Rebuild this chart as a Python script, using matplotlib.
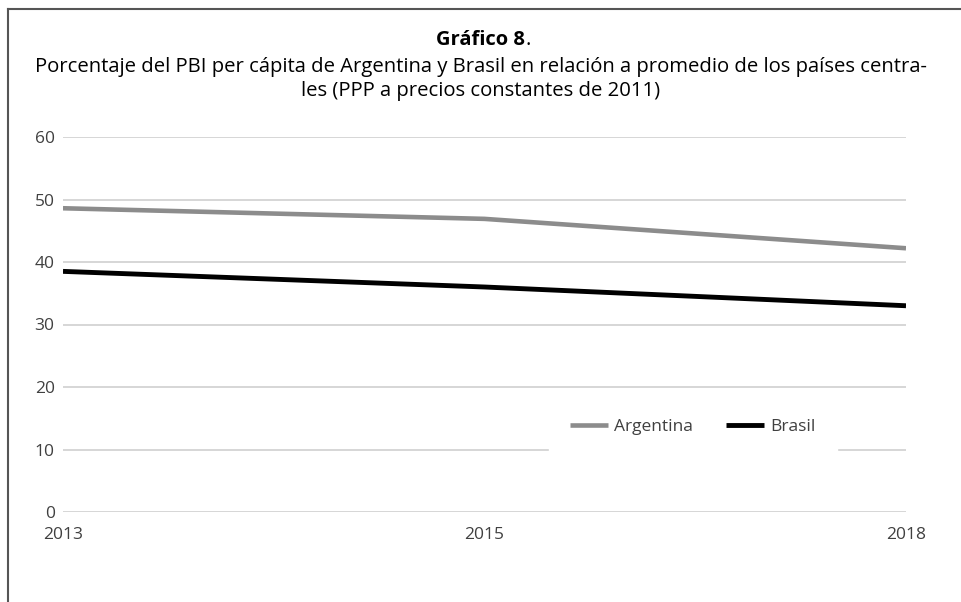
import matplotlib.pyplot as plt
from matplotlib.lines import Line2D

plt.rcParams['font.family'] = ['Open Sans', 'DejaVu Sans']

# PBI per capita relativo a los países centrales (%)
years = ['2013', '2015', '2018']
argentina = [48.6, 46.9, 42.2]
brasil = [38.5, 36.0, 33.0]
yticks = [0, 10, 20, 30, 40, 50, 60]

W, H = 962, 602
fig = plt.figure(figsize=(W / 100, H / 100), dpi=100)
ax = fig.add_axes([63 / W, (H - 512) / H, (906 - 63) / W, (512 - 137) / H])

x = range(len(years))
ax.plot(x, argentina, color='#8c8c8c', lw=3.3, label='Argentina', solid_capstyle='butt')
ax.plot(x, brasil, color='black', lw=3.5, label='Brasil', solid_capstyle='butt')

ax.set_xlim(0, len(years) - 1)
ax.set_ylim(0, 60)
ax.set_yticks(yticks)
ax.set_xticks(list(x))
ax.set_xticklabels(years)
ax.grid(axis='y', color='#cccccc', lw=1.1)
ax.set_axisbelow(True)
for s in ax.spines.values():
    s.set_visible(False)
ax.tick_params(length=0, labelsize=12.5, colors='#404040')
ax.tick_params(axis='y', pad=6)
ax.tick_params(axis='x', pad=11)

leg = ax.legend(loc='center', bbox_to_anchor=(693 / W, (H - 427) / H),
                bbox_transform=fig.transFigure, ncol=2, frameon=True,
                fontsize=12.5, handlelength=2.2, handletextpad=0.35,
                columnspacing=1.9, borderpad=1.2, borderaxespad=0)
leg.get_frame().set_facecolor('white')
leg.get_frame().set_edgecolor('white')
leg.get_frame().set_alpha(1)
for t in leg.get_texts():
    t.set_color('#404040')

# titulos: "Gráfico 8" en negrita, el punto sin negrita
t1 = fig.text(0.5, 1 - 40 / H, 'Gráfico 8', ha='center', va='center',
              fontsize=14.5, fontweight='bold', color='black')
fig.add_artist(plt.Annotation('.', xy=(1, 0), xycoords=t1, va='bottom', ha='left',
                              fontsize=14.5, color='black'))
fig.text(0.5, 1 - 67 / H,
         'Porcentaje del PBI per cápita de Argentina y Brasil en relación a promedio de los países centra-',
         ha='center', va='center', fontsize=14.6, color='black')
fig.text(0.5, 1 - 91 / H, 'les (PPP a precios constantes de 2011)',
         ha='center', va='center', fontsize=14.6, color='black')

# marco
fig.add_artist(Line2D([8 / W, 8 / W], [0, 1 - 9 / H], transform=fig.transFigure,
                      color='#555555', lw=1.5))
fig.add_artist(Line2D([8 / W, 1], [1 - 9 / H, 1 - 9 / H], transform=fig.transFigure,
                      color='#555555', lw=1.5))

fig.savefig('out.png', dpi=100)
